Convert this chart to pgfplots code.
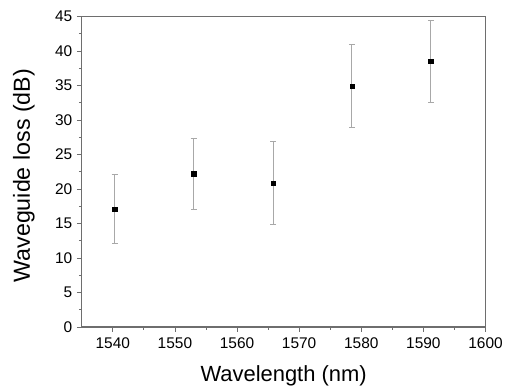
\documentclass[border=0pt]{standalone}
\usepackage{fontspec}
\setmainfont{Liberation Sans}
\usepackage{pgfplots}
\pgfplotsset{compat=1.18}
\definecolor{framegray}{HTML}{6E6E6E}
\definecolor{errgray}{HTML}{A8A8A8}
\begin{document}
\begin{tikzpicture}
\begin{axis}[
  scale only axis,
  width=405bp, height=311.5bp,
  xmin=1535, xmax=1600, ymin=0, ymax=45,
  xtick={1540,1550,...,1600},
  ytick={0,5,...,45},
  minor x tick num=1, minor y tick num=1,
  tick align=outside,
  xtick pos=bottom, ytick pos=left,
  major tick length=5bp, minor tick length=3bp,
  axis line style={framegray, line width=1.2bp},
  every tick/.style={framegray, line width=0.8bp},
  tick label style={font=\fontsize{15.5bp}{17bp}\selectfont},
  /pgf/number format/assume math mode=true,
  /pgf/number format/1000 sep={},
  xticklabel style={yshift=-2bp},
  yticklabel style={xshift=-1bp},
  xlabel={Wavelength (nm)},
  ylabel={Waveguide loss (dB)},
  xlabel style={font=\fontsize{22bp}{24bp}\selectfont, at={(axis description cs:0.5,0)}, anchor=base, yshift=-55bp},
  ylabel style={font=\fontsize{23.3bp}{25bp}\selectfont, at={(axis description cs:0,0.5)}, anchor=base, xshift=-4bp, yshift=52bp},
  clip=false,
]
\addplot[only marks, mark=square*, mark size=2.2bp, black,
  error bars/.cd, y dir=both, y explicit,
  error bar style={errgray, line width=1bp},
  error mark options={errgray, line width=0.8bp, mark size=3bp, rotate=90}]
  coordinates {
  (1540.3,17.1) +- (0,5.0)
  (1553.0,22.2) +- (0,5.1)
  (1565.8,20.85) +- (0,6.0)
  (1578.5,34.9) +- (0,6.0)
  (1591.2,38.5) +- (0,6.0)
  };
\end{axis}
\path[use as bounding box] ([shift={(-82bp,-63bp)}]current axis.south west) rectangle ([shift={(19bp,16.5bp)}]current axis.north east);
\end{tikzpicture}
\end{document}
